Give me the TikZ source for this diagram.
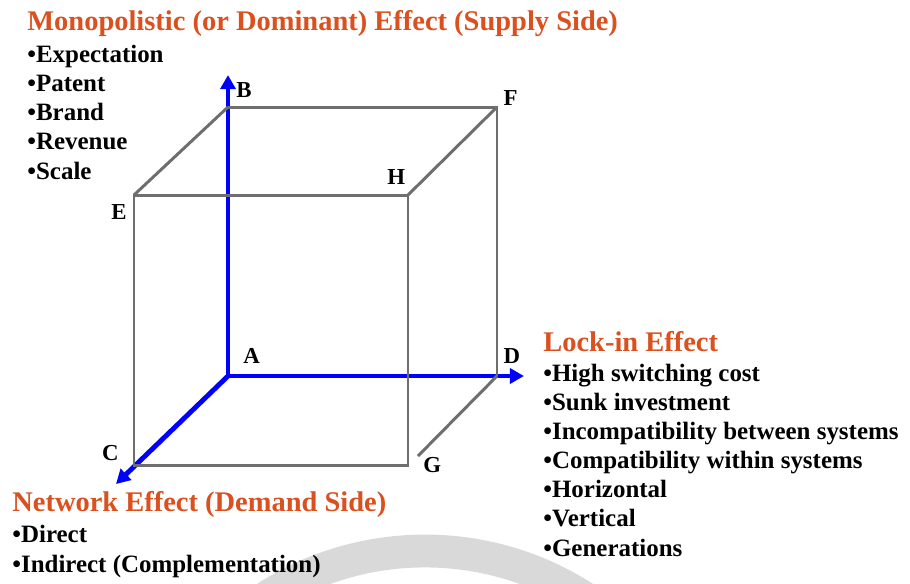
\documentclass[tikz,border=0pt]{standalone}
\usepackage{fontspec}
\setmainfont{Liberation Serif}
\usetikzlibrary{arrows.meta,positioning}

\definecolor{effect}{RGB}{218,80,30}
\definecolor{cubegray}{RGB}{110,110,110}

\begin{document}
\begin{tikzpicture}[
    x=0.02cm, y=-0.02cm,
    edge/.style={draw=cubegray, line width=1.7pt},
    axis/.style={draw=blue, line width=2.8pt, -{Triangle[length=8pt,width=8.5pt]}},
    corner/.style={inner sep=0pt, font=\fontsize{13}{15}\selectfont\bfseries},
    head/.style={anchor=base west, inner sep=0pt, text=effect,
      font=\fontsize{16.2}{19}\selectfont\bfseries},
    items/.style={anchor=base west, inner sep=0pt, align=left,
      font=\fontsize{14.2}{16.6}\selectfont\bfseries},
    water/.style={draw=gray!30, line width=18.7pt}
  ]
    \useasboundingbox (0,0) rectangle (910,583);
    % watermark arc at the bottom
    \begin{scope}
      \clip (0,0) rectangle (910,583);
      \draw[water] (425,845) circle [radius=294];
    \end{scope}
    % corners of the cube
    \coordinate (A) at (228,376);
    \coordinate (B) at (228,107);
    \coordinate (F) at (497,107);
    \coordinate (D) at (497,376);
    \coordinate (E) at (134,195);
    \coordinate (H) at (408,195);
    \coordinate (G) at (408,465);
    \coordinate (C) at (134,465);
    \coordinate (gend) at (418,456);
    \coordinate (supplyend) at (228,75);
    \coordinate (lockend) at (524,376);
    \coordinate (demandend) at (116,484);
    % axes
    \draw[axis] (A) -- (supplyend);
    \draw[axis] (A) -- (lockend);
    \draw[axis] (A) -- (demandend);
    % edges
    \draw[edge] (B) -- (F) -- (D);
    \draw[edge] (E) -- (H) -- (G) -- (C) -- cycle;
    \draw[edge] (E) -- (B);
    \draw[edge] (H) -- (F);
    \draw[edge] (D) -- (gend);
    % corner labels
    \node[corner, above right=7pt and 8.5pt of A] (labA) {A};
    \node[corner, above right=5pt and 4.5pt of B] (labB) {B};
    \node[corner, above right=0.5pt and 3.5pt of F] (labF) {F};
    \node[corner, above left=5.5pt and 1.5pt of H] (labH) {H};
    \node[corner, below left=5pt and 4pt of E] (labE) {E};
    \node[corner, above right=7pt and 3.5pt of D] (labD) {D};
    \node[corner, above left=2pt and 8.5pt of C] (labC) {C};
    \node[corner, right=8.5pt of G] (labG) {G};
    % effects (lists sit on the baseline of their last line)
    \node[head] (supply) at (27,30) {Monopolistic (or Dominant) Effect (Supply Side)};
    \node[items] (supplylist) at (27,179) {•Expectation\\•Patent\\•Brand\\•Revenue\\•Scale};
    \node[head] (lockin) at (543,351) {Lock-in Effect};
    \node[items] (lockinlist) at (543,556) {•High switching cost\\•Sunk investment\\•Incompatibility between systems\\•Compatibility within systems\\•Horizontal\\•Vertical\\•Generations};
    \node[head] (demand) at (12,511) {Network Effect (Demand Side)};
    \node[items] (demandlist) at (12,572) {•Direct\\•Indirect (Complementation)};
  \end{tikzpicture}
\end{document}
